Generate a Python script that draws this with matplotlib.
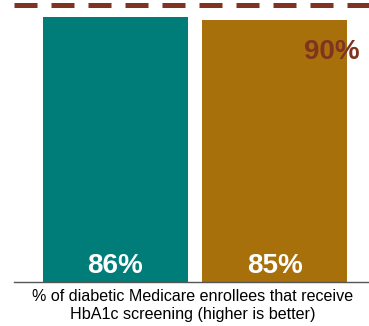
import matplotlib.pyplot as plt

plt.rcParams['font.family'] = ['Liberation Sans', 'DejaVu Sans']

groups = ['A', 'B']
values = [86, 85]
bar_colors = ['#007D78', '#A8700A']
benchmark = 90
xlabel = '% of diabetic Medicare enrollees that receive\nHbA1c screening (higher is better)'

fig = plt.figure(figsize=(3.69, 3.26), dpi=100)
ax = fig.add_axes([14/369, 44/326, 355/369, 282/326])

x = range(len(values))
ax.bar(x, values, width=0.912, color=bar_colors)
for i, v in enumerate(values):
    ax.text(i, 1.0, f'{v}%', ha='center', va='bottom', color='white',
            fontsize=20, fontweight='bold')

ax.axhline(benchmark, color='#7F3320', linewidth=3.6, dashes=(4.6, 2.8),
           solid_capstyle='butt', dash_capstyle='butt')
ax.text(1.535, 74.7, f'{benchmark}%', ha='right', va='center',
        color='#7F3320', fontsize=20, fontweight='bold')

ax.set_xlim(-0.638, 1.594)
ax.set_ylim(0, 91.5)
ax.set_xticks([])
ax.set_yticks([])
for s in ['top', 'right', 'left']:
    ax.spines[s].set_visible(False)
ax.spines['bottom'].set_color('#555555')
ax.spines['bottom'].set_linewidth(1)
ax.set_xlabel(xlabel, fontsize=11.6, labelpad=5, linespacing=1.25)
ax.xaxis.label.set_x(0.504)

fig.savefig('out.png', dpi=100)
